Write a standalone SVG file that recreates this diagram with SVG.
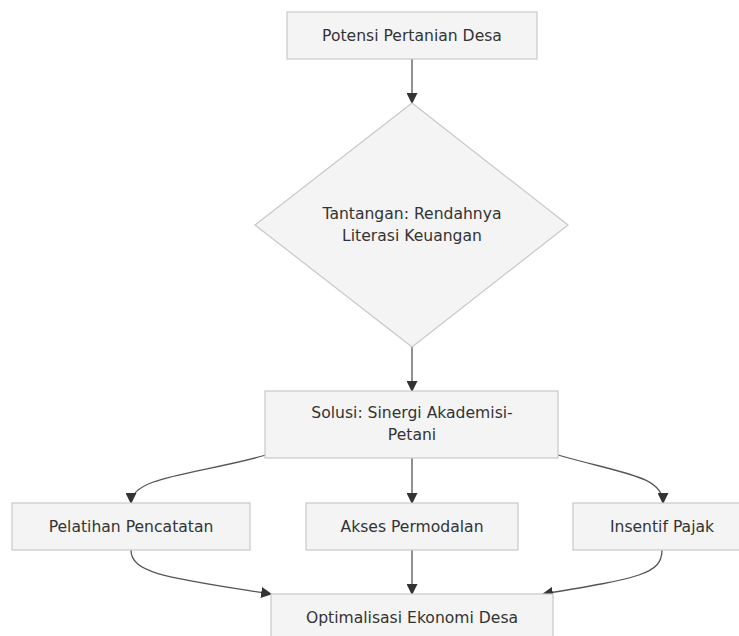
<svg xmlns="http://www.w3.org/2000/svg" width="739" height="636" viewBox="0 0 739 636">
<style>
.node rect, .node polygon { fill: #f4f4f4; stroke: #c8c8c8; stroke-width: 1.2; }
.node text { font-family: "DejaVu Sans", "Open Sans", sans-serif; font-size: 15.6px; fill: #333; text-anchor: middle; dominant-baseline: central; }
.edge { fill: none; stroke: #555; stroke-width: 1.3; marker-end: url(#arrow); }
</style>
<defs>
<marker id="arrow" markerUnits="userSpaceOnUse" markerWidth="11" markerHeight="11" viewBox="0 0 10 10" refX="9" refY="5" orient="auto">
<path d="M0,0 L10,5 L0,10 z" fill="#333"/>
</marker>
</defs>
<rect width="739" height="636" fill="#ffffff"/>
<g id="connectors">
<path class="edge" d="M412,59 L412,103"/>
<path class="edge" d="M412,347 L412,391"/>
<path class="edge" d="M266,455 C200,474 131,476 131,503"/>
<path class="edge" d="M412,458 L412,503"/>
<path class="edge" d="M558,455 C624,474 663,476 663,503"/>
<path class="edge" d="M131,550 C131,574 170,578 271,594"/>
<path class="edge" d="M412,550 L412,594"/>
<path class="edge" d="M662,550 C662,574 640,578 543,594"/>
</g>
<g id="potensi" class="node">
<rect x="287" y="12" width="250" height="47"/>
<text x="412" y="36">Potensi Pertanian Desa</text>
</g>
<g id="tantangan" class="node">
<polygon points="412,103 568,225 412,347 255,225"/>
<text x="412" y="214">Tantangan: Rendahnya</text>
<text x="412" y="236">Literasi Keuangan</text>
</g>
<g id="solusi" class="node">
<rect x="265" y="391" width="293" height="67"/>
<text x="412" y="413">Solusi: Sinergi Akademisi-</text>
<text x="412" y="435">Petani</text>
</g>
<g id="pelatihan" class="node">
<rect x="12" y="503" width="238" height="47"/>
<text x="131" y="527">Pelatihan Pencatatan</text>
</g>
<g id="akses" class="node">
<rect x="306" y="503" width="212" height="47"/>
<text x="412" y="527">Akses Permodalan</text>
</g>
<g id="insentif" class="node">
<rect x="573" y="503" width="178" height="47"/>
<text x="662" y="527">Insentif Pajak</text>
</g>
<g id="optimalisasi" class="node">
<rect x="271" y="594" width="282" height="47"/>
<text x="412" y="618">Optimalisasi Ekonomi Desa</text>
</g>
</svg>
